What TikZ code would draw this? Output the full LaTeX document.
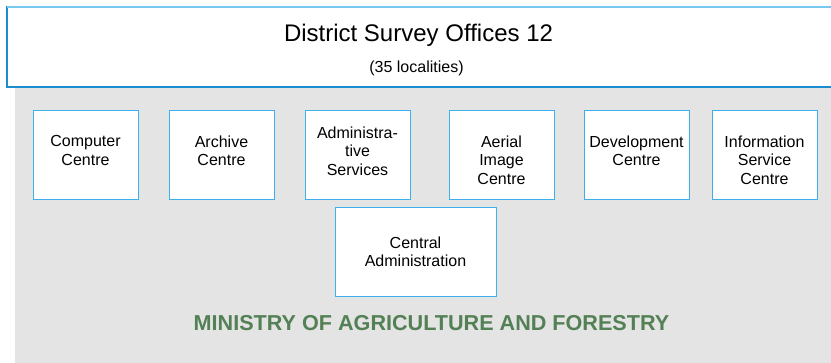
\documentclass[tikz,border=0pt]{standalone}
\usepackage{fontspec}
\setmainfont{Liberation Sans}
\usetikzlibrary{positioning}
\definecolor{boxblue}{RGB}{62,174,236}
\definecolor{darkblue}{RGB}{26,140,208}
\definecolor{lightblue}{RGB}{120,200,240}
\definecolor{bggray}{RGB}{228,228,228}
\definecolor{mafgreen}{RGB}{84,128,86}
\tikzset{
  unitbox/.style={draw=boxblue, line width=1pt, fill=white, minimum width=105pt, minimum height=89pt, inner sep=0pt},
  unittext/.style={anchor=north, inner sep=0pt, align=center, font=\fontsize{16}{18.6}\selectfont}
}
\begin{document}
\begin{tikzpicture}[x=1pt, y=-1pt]
\useasboundingbox (0,0) rectangle (831,362);
% gray ministry area
\fill[bggray] (15,88) rectangle (840,370);
% top band
\draw[darkblue, line width=1.2pt, fill=white] (840,87)--(7,87)--(7,7)--(840,7);
\draw[lightblue, line width=1.5pt] (7,7)--(840,7);
\node[inner sep=0pt, font=\fontsize{24}{28}\selectfont] (dso) at (418.5,35) {District Survey Offices 12};
\node[inner sep=0pt, font=\fontsize{16}{18}\selectfont] (loc) at (416.5,68) {(35 localities)};
% units
\node[unitbox] (comp) at (85.5,154.5) {};
\node[unitbox] (arch) at (221.5,154.5) {};
\node[unitbox] (adms) at (357.5,154.5) {};
\node[unitbox] (aer) at (501.5,154.5) {};
\node[unitbox] (dev) at (636.5,154.5) {};
\node[unitbox] (info) at (764.5,154.5) {};
\node[unitbox, minimum width=161pt] (cadm) at (415.5,251.5) {};
\node[unittext, below=26pt of comp.north] (compt) {Computer\\Centre};
\node[unittext, below=26pt of arch.north] (archt) {Archive\\Centre};
\node[unittext, below=17pt of adms.north] (admst) {Administra-\\tive\\Services};
\node[unittext, below=26pt of aer.north] (aert) {Aerial\\Image\\Centre};
\node[unittext, below=26pt of dev.north] (devt) {Development\\Centre};
\node[unittext, below=26pt of info.north] (infot) {Information\\Service\\Centre};
\node[unittext, below=30pt of cadm.north] (cadmt) {Central\\Administration};
\node[inner sep=0pt, text=mafgreen, font=\fontsize{21.6}{26}\selectfont\bfseries] (maf) at (431.5,323) {MINISTRY OF AGRICULTURE AND FORESTRY};
\end{tikzpicture}
\end{document}
